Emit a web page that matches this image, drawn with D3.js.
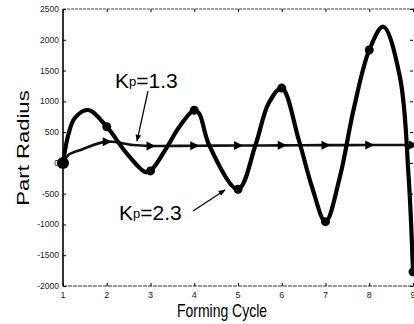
<!DOCTYPE html>
<html><head><meta charset="utf-8">
<script src="https://cdn.jsdelivr.net/npm/d3@7/dist/d3.min.js"></script>
<style>body{margin:0;background:#fff}svg{display:block}</style>
</head><body><div id="chart"></div>
<script>
// values
const cycles = [1, 2, 3, 4, 5, 6, 7, 8, 9];
const kp13Markers = [0, 345, 275, 278, 282, 285, 288, 290, 290];
const kp23Markers = [0, 588, -130, 855, -429, 1215, -955, 1834, -1770];
// points along the curves between cycles (cycle, radius), also
const kp13TraceX = [1, 1.12, 1.42, 2, 2.6, 3, 4, 5, 6, 7, 8, 9];
const kp13TraceY = [0, 128, 215, 345, 290, 275, 278, 282, 285, 288, 290, 290];
const kp23TraceX = [1, 1.12, 1.27, 1.575, 2, 2.43, 2.88, 3, 3.36, 3.66, 4, 4.11, 4.34, 5, 5.4, 5.7, 6, 6.39, 6.69, 7, 7.33, 7.64, 8, 8.32, 8.7, 8.9, 9];
const kp23TraceY = [0, 453, 729, 859, 588, 177, -148, -130, 237, 588, 855, 806, 291, -429, 291, 968, 1215, 372, -387, -955, -224, 859, 1834, 2212, 1400, -224, -1770];
const yTicks = [-2000, -1500, -1000, -500, 0, 500, 1000, 1500, 2000, 2500];

const W = 414, H = 324;
const svg = d3.select('#chart').append('svg').attr('width', W).attr('height', H);

const x = d3.scaleLinear().domain([1, 9]).range([63, 413]);
const y = d3.scaleLinear().domain([-2000, 2500]).range([286, 9]);

// frame
let frame = svg.append('g');
frame.append('line').attr('x1', 63).attr('x2', 415).attr('y1', 9).attr('y2', 9)
    .attr('stroke', '#444').attr('stroke-width', 1).attr('stroke-dasharray', '3,1');
frame.append('line').attr('x1', 63).attr('x2', 415).attr('y1', 286).attr('y2', 286)
    .attr('stroke', '#333').attr('stroke-width', 1.2).attr('stroke-dasharray', '4,1');
frame.append('line').attr('x1', 63).attr('x2', 63).attr('y1', 9).attr('y2', 286)
    .attr('stroke', '#000').attr('stroke-width', 1.6);

// y axis, ticks pointing inward
let yAxis = svg.append('g').attr('transform', 'translate(63,0)')
    .call(d3.axisRight(y).tickValues(yTicks).tickSize(3).tickFormat(''));
yAxis.select('.domain').remove();
svg.append('g').attr('transform', 'translate(413,0)')
    .call(d3.axisLeft(y).tickValues(yTicks).tickSize(3).tickFormat(''))
    .select('.domain').remove();
svg.append('g').selectAll('text').data(yTicks).enter().append('text')
    .attr('x', 59).attr('y', (d) => y(d)).attr('dy', '0.35em')
    .attr('text-anchor', 'end')
    .style('font-family', '"Liberation Sans Narrow", "Arial Narrow", sans-serif')
    .style('font-size', '8.5px').style('fill', '#222')
    .text((d) => d);

// x axis
svg.append('g').attr('transform', 'translate(0,286)')
    .call(d3.axisTop(x).tickValues(cycles).tickSize(3).tickFormat(''))
    .select('.domain').remove();
svg.append('g').attr('transform', 'translate(0,9)')
    .call(d3.axisBottom(x).tickValues(cycles).tickSize(3).tickFormat(''))
    .select('.domain').remove();
svg.append('g').selectAll('text').data(cycles).enter().append('text')
    .attr('x', (d) => x(d)).attr('y', 295).attr('dy', '0.35em')
    .attr('text-anchor', 'middle')
    .style('font-family', '"Liberation Sans Narrow", "Arial Narrow", sans-serif')
    .style('font-size', '9px').style('fill', '#222')
    .text((d) => d);

// axis titles (the reference is stretched vertically)
svg.append('text')
    .attr('transform', 'translate(222,317) scale(1,1.27)')
    .attr('text-anchor', 'middle')
    .style('font-family', '"Liberation Sans", Arial, sans-serif').style('font-size', '14px')
    .text('Forming Cycle');
svg.append('text')
    .attr('transform', 'translate(23,148) scale(1,1.3) rotate(-90)')
    .attr('text-anchor', 'middle').attr('dy', '0.35em')
    .style('font-family', '"Liberation Sans", Arial, sans-serif').style('font-size', '17px')
    .text('Part Radius');

// curves
let line = d3.line().x((d) => x(d[0])).y((d) => y(d[1])).curve(d3.curveCatmullRom.alpha(0.5));
let plot = svg.append('g');
plot.append('path').datum(kp13TraceX.map((c, i) => [c, kp13TraceY[i]]))
    .attr('d', line).attr('fill', 'none').attr('stroke', '#111').attr('stroke-width', 2.6);
plot.append('path').datum(kp23TraceX.map((c, i) => [c, kp23TraceY[i]]))
    .attr('d', line).attr('fill', 'none').attr('stroke', '#000').attr('stroke-width', 4.2)
    .attr('stroke-linejoin', 'round');

// markers
plot.selectAll('.tri').data(cycles.slice(1)).enter().append('path')
    .attr('class', 'tri')
    .attr('transform', (d, i) => `translate(${x(d)},${y(kp13Markers[i + 1])})`)
    .attr('d', 'M-4,-4.5L5,0L-4,4.5Z').attr('fill', '#000');
plot.selectAll('.dot').data(cycles).enter().append('circle')
    .attr('class', 'dot')
    .attr('cx', (d) => x(d)).attr('cy', (d, i) => y(kp23Markers[i]))
    .attr('r', (d, i) => i === 0 ? 6 : 4.5).attr('fill', '#000');

// annotations
svg.append('defs').append('marker').attr('id', 'arr')
    .attr('viewBox', '0 0 10 10').attr('refX', 9).attr('refY', 5)
    .attr('markerWidth', 7).attr('markerHeight', 7).attr('markerUnits', 'userSpaceOnUse')
    .attr('orient', 'auto')
    .append('path').attr('d', 'M0,1L10,5L0,9Z').attr('fill', '#000');

function label(tx, ty, value) {
    let t = svg.append('text').attr('x', tx).attr('y', ty)
        .style('font-family', '"Liberation Sans", Arial, sans-serif').style('font-size', '21px');
    t.append('tspan').text('K');
    t.append('tspan').attr('dy', -2).style('font-size', '13px').text('p');
    t.append('tspan').attr('dy', 2).text('=' + value);
}
label(115, 88, '1.3');
label(119, 220, '2.3');
svg.append('line').attr('x1', 148).attr('y1', 91).attr('x2', 137).attr('y2', 141)
    .attr('stroke', '#000').attr('stroke-width', 1.2).attr('marker-end', 'url(#arr)');
svg.append('line').attr('x1', 193).attr('y1', 211).attr('x2', 225).attr('y2', 190)
    .attr('stroke', '#000').attr('stroke-width', 1.2).attr('marker-end', 'url(#arr)');
</script>
</body></html>
